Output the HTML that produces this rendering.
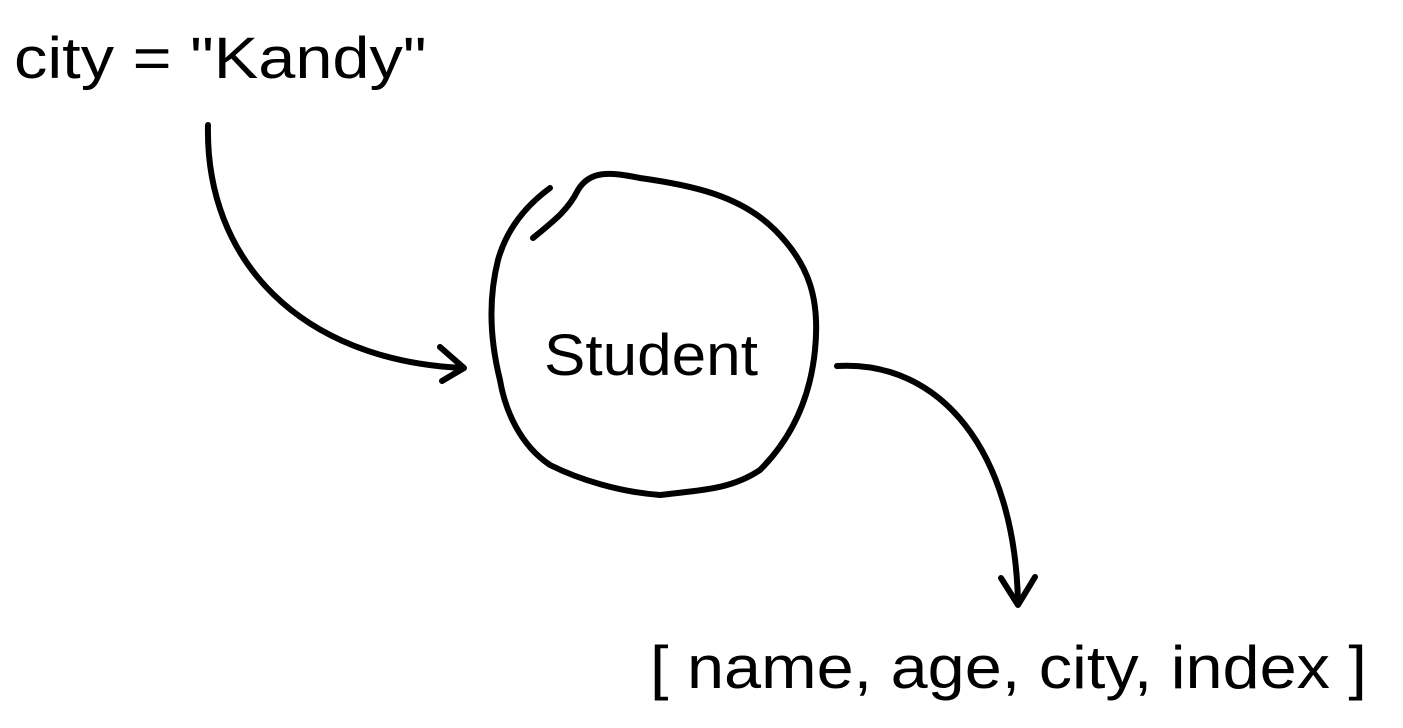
<!DOCTYPE html>
<html><head><meta charset="utf-8"><style>
html,body{margin:0;padding:0;background:#fff;}
body{width:1403px;height:728px;position:relative;overflow:hidden;font-family:"Liberation Sans",sans-serif;color:#000;}
.t{position:absolute;white-space:nowrap;line-height:1;transform-origin:0 0;}
</style></head><body>
<div class="t" style="left:14px;top:30px;font-size:58px;transform:scaleX(1.15);">city = "Kandy"</div>
<div class="t" style="left:544px;top:327px;font-size:58px;transform:scaleX(1.07);">Student</div>
<div class="t" style="left:650px;top:638px;font-size:60px;transform:scaleX(1.11);">[ name, age, city, index ]</div>
<svg width="1403" height="728" style="position:absolute;left:0;top:0" fill="none" stroke="#000" stroke-width="6" stroke-linecap="round" stroke-linejoin="round">
<path d="M208,125 C205,260 300,360 462,368"/>
<path d="M440,347 L464,368 L442,381"/>
<path d="M533,238 C555,220 568,210 578,190 C590,170 610,172 640,178 C690,185 740,195 775,230 C810,265 820,300 815,350 C810,400 790,440 760,470 C730,490 700,490 660,495 C620,492 580,480 550,465 C520,445 505,410 500,380 C490,340 488,300 498,260 C505,235 520,210 550,188"/>
<path d="M837,366 C940,360 1015,450 1018,603"/>
<path d="M1001,578 L1018,605 L1035,577"/>
</svg>
</body></html>
